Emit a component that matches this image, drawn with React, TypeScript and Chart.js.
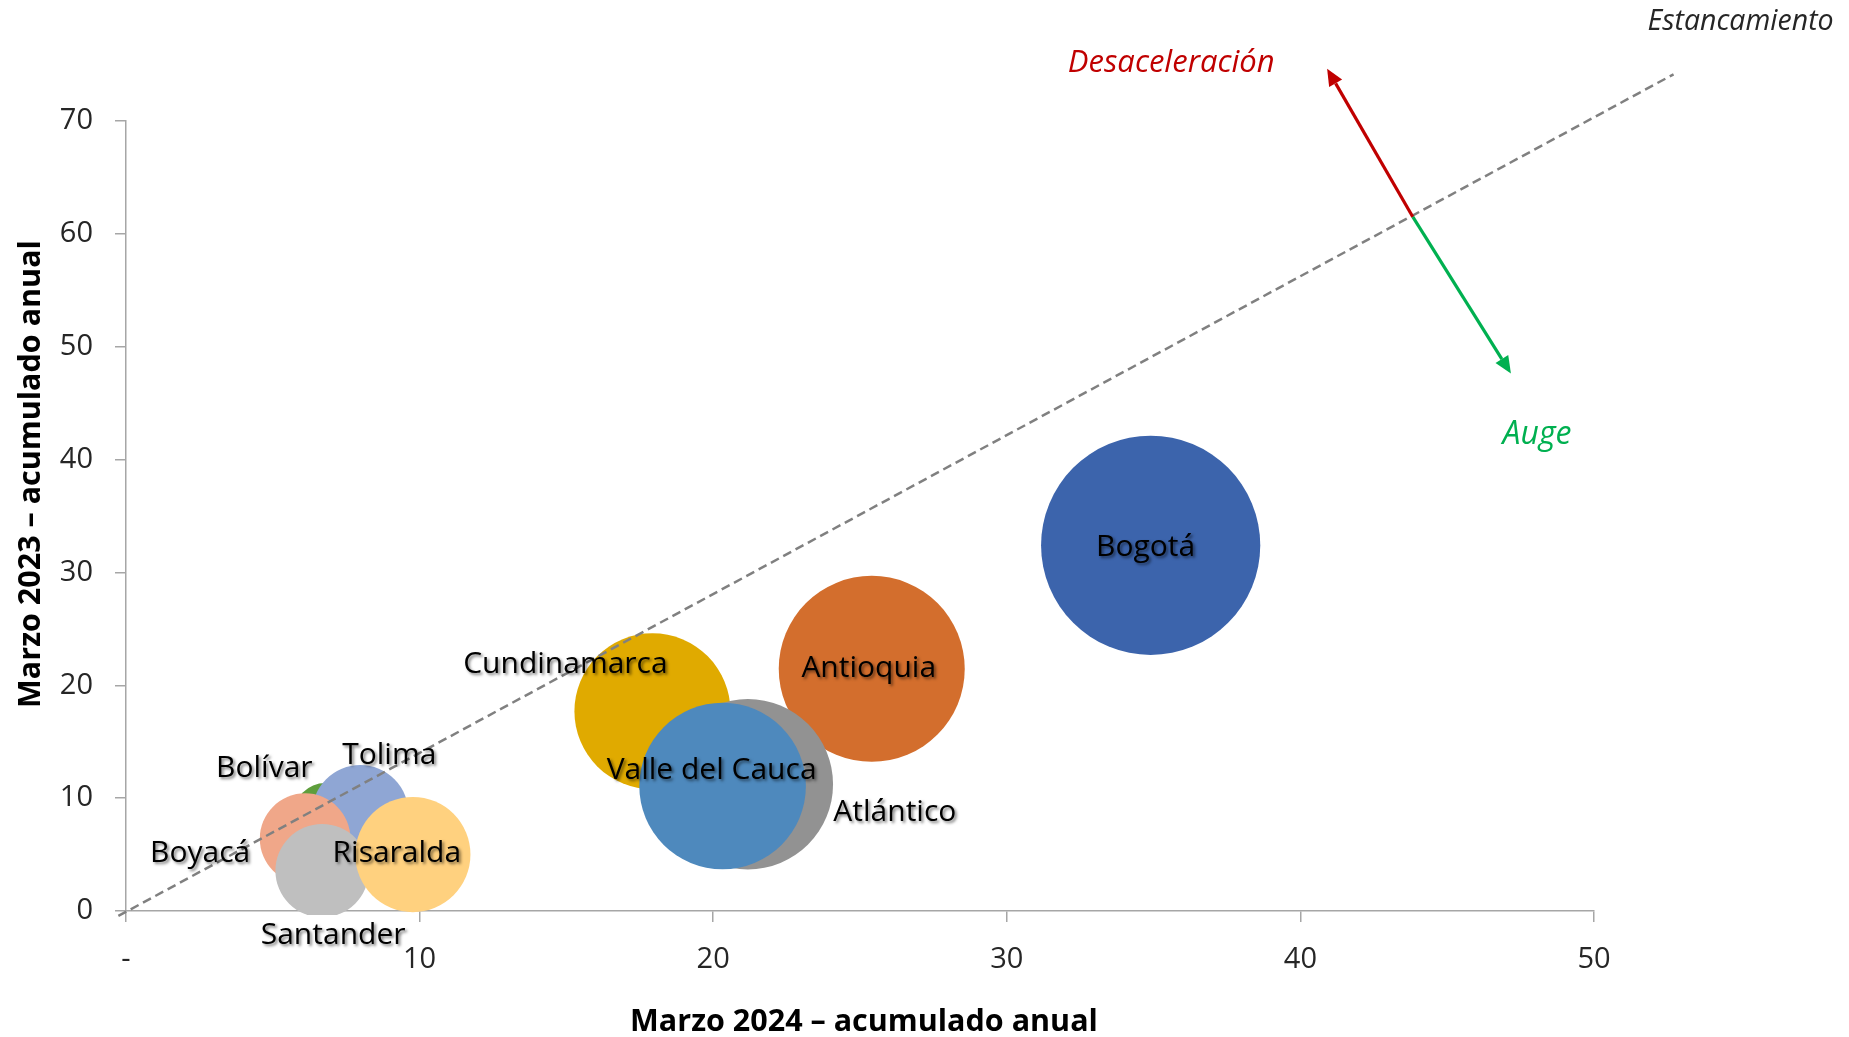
import React, { useEffect, useRef } from "react";
import { Chart, registerables } from "chart.js";

Chart.register(...registerables);

// ---------- data ----------
const regions = [
  "Bogotá",
  "Antioquia",
  "Cundinamarca",
  "Atlántico",
  "Valle del Cauca",
  "Bolívar",
  "Tolima",
  "Boyacá",
  "Santander",
  "Risaralda",
];
const marzo2024 = [34.9, 25.4, 17.93, 21.18, 20.32, 6.79, 7.98, 6.1, 6.68, 9.77];
const marzo2023 = [32.4, 21.46, 17.7, 11.23, 11.07, 8.5, 8.65, 6.41, 3.57, 5.0];
const bubbleRadius = [109.6, 93, 78, 85.2, 83.3, 32, 48.3, 45.3, 46.7, 57.6];

const xTicks = [0, 10, 20, 30, 40, 50];
const xTickLabels = ["-", "10", "20", "30", "40", "50"];
const yTicks = [0, 10, 20, 30, 40, 50, 60, 70];
const yTickLabels = ["0", "10", "20", "30", "40", "50", "60", "70"];

// "Estancamiento" reference line (data coords)
const stagnationX = [-0.26, 52.71];
const stagnationY = [-0.44, 74.14];
// arrows (data coords)
const arrowOrigin = [43.83, 61.5];
const decelTip = [40.91, 74.64];
const boomTip = [47.17, 47.63];
// annotation texts and anchor (data coords)
const annotationTexts = ["Estancamiento", "Desaceleración", "Auge"];
const annotationX = [58.16, 35.6, 48.06];
const annotationY = [78.77, 75.08, 42.16];

const xTitle = "Marzo 2024 – acumulado anual";
const yTitle = "Marzo 2023 – acumulado anual";

// ---------- styles ----------
const bubbleColors = [
  "#3C64AC",
  "#D36E2D",
  "#E0AA00",
  "#929292",
  "#4E89BD",
  "#5E9E3C",
  "#8FA6D4",
  "#F0A789",
  "#BFBFBF",
  "#FFD17F",
];
// label offsets (px) from bubble centre
const labelDX = [-5, -3, -87, 147, -11, -61, 29, -105, 11, -16];
const labelDY = [2, 0, -47, 28, -16, -47, -58, 15, 65, -1];
const annotationColors = ["#262626", "#C00000", "#00B050"];
const annotationAlign: CanvasTextAlign[] = ["right", "center", "center"];
const annotationSize = [28.5, 31, 32];

const FONT = '"Open Sans", "Noto Sans", sans-serif';
const AXIS_COLOR = "#A6A6A6";
const TICK_COLOR = "#262626";

function drawArrow(
  ctx: CanvasRenderingContext2D,
  x0: number,
  y0: number,
  x1: number,
  y1: number,
  color: string
) {
  const ang = Math.atan2(y1 - y0, x1 - x0);
  const headLen = 17;
  const headW = 7.5;
  const bx = x1 - headLen * Math.cos(ang);
  const by = y1 - headLen * Math.sin(ang);
  ctx.save();
  ctx.strokeStyle = color;
  ctx.fillStyle = color;
  ctx.lineWidth = 3.2;
  ctx.setLineDash([]);
  ctx.beginPath();
  ctx.moveTo(x0, y0);
  ctx.lineTo(bx, by);
  ctx.stroke();
  ctx.beginPath();
  ctx.moveTo(x1, y1);
  ctx.lineTo(bx + headW * Math.sin(ang), by - headW * Math.cos(ang));
  ctx.lineTo(bx - headW * Math.sin(ang), by + headW * Math.cos(ang));
  ctx.closePath();
  ctx.fill();
  ctx.restore();
}

const overlayPlugin = {
  id: "overlay",
  afterDatasetsDraw(chart: any) {
    const ctx: CanvasRenderingContext2D = chart.ctx;
    const xs = chart.scales.x;
    const ys = chart.scales.y;
    const ca = chart.chartArea;

    // dashed stagnation line
    ctx.save();
    ctx.strokeStyle = "#808080";
    ctx.lineWidth = 2.5;
    ctx.setLineDash([9, 5]);
    ctx.beginPath();
    ctx.moveTo(xs.getPixelForValue(stagnationX[0]), ys.getPixelForValue(stagnationY[0]));
    ctx.lineTo(xs.getPixelForValue(stagnationX[1]), ys.getPixelForValue(stagnationY[1]));
    ctx.stroke();
    ctx.restore();

    // arrows
    const ox = xs.getPixelForValue(arrowOrigin[0]);
    const oy = ys.getPixelForValue(arrowOrigin[1]);
    drawArrow(ctx, ox, oy, xs.getPixelForValue(decelTip[0]), ys.getPixelForValue(decelTip[1]), "#C00000");
    drawArrow(ctx, ox, oy, xs.getPixelForValue(boomTip[0]), ys.getPixelForValue(boomTip[1]), "#00B050");

    // bubble labels
    const meta = chart.getDatasetMeta(0);
    ctx.save();
    ctx.font = `30px ${FONT}`;
    ctx.textAlign = "center";
    ctx.textBaseline = "middle";
    ctx.fillStyle = "#000000";
    ctx.shadowColor = "rgba(0,0,0,0.5)";
    ctx.shadowBlur = 3;
    ctx.shadowOffsetX = 2;
    ctx.shadowOffsetY = 2;
    meta.data.forEach((el: any, i: number) => {
      ctx.fillText(regions[i], el.x + labelDX[i], el.y + labelDY[i]);
    });
    ctx.restore();

    // annotation texts
    ctx.save();
    ctx.textBaseline = "middle";
    annotationTexts.forEach((t, i) => {
      ctx.font = `italic ${annotationSize[i]}px ${FONT}`;
      ctx.fillStyle = annotationColors[i];
      ctx.textAlign = annotationAlign[i];
      ctx.fillText(t, xs.getPixelForValue(annotationX[i]), ys.getPixelForValue(annotationY[i]));
    });
    ctx.restore();

    // axis titles
    ctx.save();
    ctx.font = `bold 30.5px ${FONT}`;
    ctx.fillStyle = "#000000";
    ctx.textAlign = "center";
    ctx.textBaseline = "middle";
    ctx.fillText(xTitle, (ca.left + ca.right) / 2 + 4, 1022);
    ctx.translate(31, (ca.top + ca.bottom) / 2 - 42);
    ctx.rotate(-Math.PI / 2);
    ctx.fillText(yTitle, 0, 0);
    ctx.restore();
  },
};

export default function App() {
  const canvasRef = useRef<HTMLCanvasElement | null>(null);

  useEffect(() => {
    document.body.style.margin = "0";
    document.body.style.overflow = "hidden";
    const canvas = canvasRef.current;
    if (!canvas) return;

    const points = regions.map((_, i) => ({ x: marzo2024[i], y: marzo2023[i], r: bubbleRadius[i] }));

    const chart = new Chart(canvas, {
      type: "bubble",
      data: {
        datasets: [
          {
            label: "Regiones",
            data: points,
            backgroundColor: bubbleColors,
            borderWidth: 0,
            hoverBorderWidth: 0,
            clip: { left: 10, top: 10, right: 10, bottom: 4 } as any,
          },
        ],
      },
      options: {
        responsive: false,
        animation: false,
        events: [],
        layout: { padding: { top: 121, right: 255, left: 0, bottom: 0 } },
        plugins: {
          legend: { display: false },
          tooltip: { enabled: false },
        },
        scales: {
          x: {
            type: "linear",
            min: 0,
            max: 50,
            afterBuildTicks: (s: any) => {
              s.ticks = xTicks.map((v) => ({ value: v }));
            },
            afterFit: (s: any) => {
              s.height = 126;
            },
            ticks: {
              callback: (_v: any, i: number) => xTickLabels[i],
              font: { family: FONT, size: 29 },
              color: TICK_COLOR,
              padding: 20,
              maxRotation: 0,
            },
            grid: {
              drawOnChartArea: false,
              drawTicks: true,
              tickLength: 11,
              color: AXIS_COLOR,
              lineWidth: 1.5,
            },
            border: { display: true, color: AXIS_COLOR, width: 1.5 },
          },
          y: {
            type: "linear",
            min: 0,
            max: 70,
            afterBuildTicks: (s: any) => {
              s.ticks = yTicks.map((v) => ({ value: v }));
            },
            afterFit: (s: any) => {
              s.width = 126;
            },
            ticks: {
              callback: (_v: any, i: number) => yTickLabels[i],
              font: { family: FONT, size: 29 },
              color: TICK_COLOR,
              padding: 22,
            },
            grid: {
              drawOnChartArea: false,
              drawTicks: true,
              tickLength: 11,
              color: AXIS_COLOR,
              lineWidth: 1.5,
            },
            border: { display: true, color: AXIS_COLOR, width: 1.5 },
          },
        },
      },
      plugins: [overlayPlugin],
    });

    return () => {
      chart.destroy();
    };
  }, []);

  return (
    <div style={{ width: 1849, height: 1037, background: "#ffffff" }}>
      <canvas ref={canvasRef} width={1849} height={1037} style={{ width: 1849, height: 1037, display: "block" }} />
    </div>
  );
}
